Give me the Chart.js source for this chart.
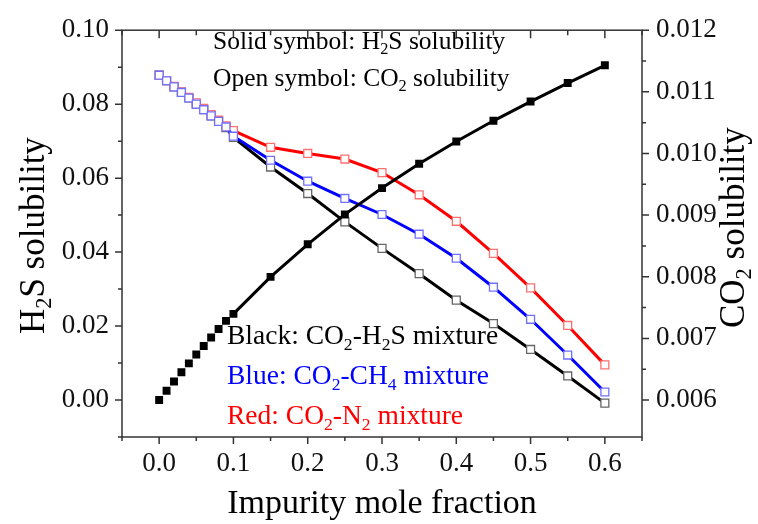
<!DOCTYPE html>
<html><head><meta charset="utf-8">
<script src="https://cdn.jsdelivr.net/npm/chart.js@4.4.1/dist/chart.umd.min.js"></script>
<style>html,body{margin:0;padding:0;background:#fff;} #wrap{width:758px;height:524px;position:relative;}</style>
</head><body><div id="wrap"><canvas id="c" width="758" height="524"></canvas></div>
<script>
// ---- data ----
const impurityFraction = [0, 0.01, 0.02, 0.03, 0.04, 0.05, 0.06, 0.07, 0.08, 0.09, 0.1, 0.15, 0.2, 0.25, 0.3, 0.35, 0.4, 0.45, 0.5, 0.55, 0.6];
const h2sSolubility = [0, 0.0025, 0.0050, 0.0075, 0.0099, 0.0123, 0.0146, 0.0169, 0.0192, 0.0214, 0.0233, 0.0333, 0.0421, 0.0502, 0.0573, 0.0639, 0.0699, 0.0755, 0.0807, 0.0857, 0.0905];
const co2SolCO2H2S = [0.01127, 0.01118, 0.01108, 0.01099, 0.01090, 0.01080, 0.01071, 0.01061, 0.01052, 0.01042, 0.01026, 0.00978, 0.00935, 0.00889, 0.00846, 0.00805, 0.00762, 0.00724, 0.00682, 0.00639, 0.00595];
const co2SolCO2CH4 = [0.01127, 0.01118, 0.01108, 0.01099, 0.01090, 0.01080, 0.01071, 0.01061, 0.01052, 0.01043, 0.01028, 0.00989, 0.00955, 0.00927, 0.00901, 0.00869, 0.00830, 0.00783, 0.00731, 0.00673, 0.00613];
const co2SolCO2N2 = [0.01127, 0.01118, 0.01109, 0.01100, 0.01091, 0.01082, 0.01073, 0.01063, 0.01054, 0.01045, 0.01037, 0.01010, 0.01000, 0.00991, 0.00969, 0.00933, 0.00890, 0.00838, 0.00782, 0.00721, 0.00657];

const xMajorTicks = [0, 0.1, 0.2, 0.3, 0.4, 0.5, 0.6];
const xMinorTicks = [-0.05, 0.05, 0.15, 0.25, 0.35, 0.45, 0.55, 0.65];
const leftMajorTicks = [0, 0.02, 0.04, 0.06, 0.08, 0.10];
const leftMinorTicks = [-0.01, 0.01, 0.03, 0.05, 0.07, 0.09];
const rightMajorTicks = [0.006, 0.007, 0.008, 0.009, 0.010, 0.011, 0.012];
const rightMinorTicks = [0.0065, 0.0075, 0.0085, 0.0095, 0.0105, 0.0115];

const xTitle = 'Impurity mole fraction';
const leftTitle = 'H_{2}S solubility';
const rightTitle = 'CO_{2} solubility';
const noteSolid = 'Solid symbol: H_{2}S solubility';
const noteOpen = 'Open symbol: CO_{2} solubility';
const noteBlack = 'Black: CO_{2}-H_{2}S mixture';
const noteBlue = 'Blue: CO_{2}-CH_{4} mixture';
const noteRed = 'Red: CO_{2}-N_{2} mixture';

// ---- helpers ----
const FONT = '"Liberation Serif", "Times New Roman", serif';
function parseRich(s) {
  const out = []; const re = /_\{([^}]*)\}/g; let last = 0, m;
  while ((m = re.exec(s))) { if (m.index > last) out.push({t: s.slice(last, m.index), sub: false}); out.push({t: m[1], sub: true}); last = re.lastIndex; }
  if (last < s.length) out.push({t: s.slice(last), sub: false});
  return out;
}
function drawRich(ctx, str, x, y, size, color, align, rot) {
  const segs = parseRich(str);
  const subSize = size * 0.64;
  ctx.save();
  ctx.translate(x, y);
  if (rot) ctx.rotate(rot);
  ctx.fillStyle = color;
  ctx.textBaseline = 'alphabetic';
  ctx.textAlign = 'left';
  let total = 0;
  segs.forEach(sg => { ctx.font = (sg.sub ? subSize : size) + 'px ' + FONT; sg.w = ctx.measureText(sg.t).width; total += sg.w; });
  let cx = align === 'center' ? -total / 2 : 0;
  segs.forEach(sg => {
    ctx.font = (sg.sub ? subSize : size) + 'px ' + FONT;
    ctx.fillText(sg.t, cx, sg.sub ? size * 0.2 : 0);
    cx += sg.w;
  });
  ctx.restore();
}

const framePlugin = {
  id: 'frame',
  afterDraw(chart) {
    const {ctx, chartArea: a, scales} = chart;
    const sx = scales.x, sy = scales.y, sy2 = scales.y2;
    ctx.save();
    ctx.strokeStyle = '#333';
    ctx.lineWidth = 1.5;
    ctx.strokeRect(a.left, a.top, a.right - a.left, a.bottom - a.top);
    ctx.lineWidth = 1.5;
    ctx.beginPath();
    const MAJ = 7, MIN = 4;
    xMajorTicks.forEach(v => { const p = sx.getPixelForValue(v); ctx.moveTo(p, a.bottom); ctx.lineTo(p, a.bottom + MAJ); ctx.moveTo(p, a.top); ctx.lineTo(p, a.top + MAJ + 1); });
    xMinorTicks.forEach(v => { const p = sx.getPixelForValue(v); ctx.moveTo(p, a.bottom); ctx.lineTo(p, a.bottom + MIN); ctx.moveTo(p, a.top); ctx.lineTo(p, a.top + MIN + 1); });
    leftMajorTicks.forEach(v => { const p = sy.getPixelForValue(v); ctx.moveTo(a.left, p); ctx.lineTo(a.left - MAJ, p); });
    leftMinorTicks.forEach(v => { const p = sy.getPixelForValue(v); ctx.moveTo(a.left, p); ctx.lineTo(a.left - MIN, p); });
    rightMajorTicks.forEach(v => { const p = sy2.getPixelForValue(v); ctx.moveTo(a.right, p); ctx.lineTo(a.right + MAJ, p); });
    rightMinorTicks.forEach(v => { const p = sy2.getPixelForValue(v); ctx.moveTo(a.right, p); ctx.lineTo(a.right + MIN, p); });
    ctx.stroke();
    ctx.restore();

    drawRich(ctx, xTitle, (a.left + a.right) / 2, 513, 34, '#000', 'center', 0);
    drawRich(ctx, leftTitle, 44, (a.top + a.bottom) / 2 + 2, 35, '#000', 'center', -Math.PI / 2);
    drawRich(ctx, rightTitle, 744, (a.top + a.bottom) / 2 - 6, 35, '#000', 'center', -Math.PI / 2);
    drawRich(ctx, noteSolid, 213, 49, 25.5, '#000', 'left', 0);
    drawRich(ctx, noteOpen, 213, 86, 25.5, '#000', 'left', 0);
    drawRich(ctx, noteBlack, 227, 344, 27.5, '#000', 'left', 0);
    drawRich(ctx, noteBlue, 227, 384, 27.5, '#0000ff', 'left', 0);
    drawRich(ctx, noteRed, 227, 424, 27.5, '#ff0000', 'left', 0);
  }
};

function pts(ys) { return impurityFraction.map((x, i) => ({x: x, y: ys[i]})); }

const tickFont = {family: FONT, size: 27};

new Chart(document.getElementById('c'), {
  type: 'line',
  data: {
    datasets: [
      {
        label: 'H2S solubility (CO2-H2S)', data: pts(h2sSolubility), yAxisID: 'y', order: 0,
        borderColor: '#000', borderWidth: 3, pointStyle: 'rect', pointRadius: 5.6,
        pointBackgroundColor: '#000', pointBorderColor: '#000', pointBorderWidth: 0,
        segment: { borderColor: c => (c.p1.parsed.x <= 0.1 + 1e-9 ? 'rgba(0,0,0,0)' : '#000') }
      },
      {
        label: 'CO2 solubility (CO2-CH4)', data: pts(co2SolCO2CH4), yAxisID: 'y2', order: 1,
        borderColor: '#0000ff', borderWidth: 3, pointStyle: 'rect', pointRadius: 5.6,
        pointBackgroundColor: '#fff', pointBorderColor: '#7070ff', pointBorderWidth: 1.3
      },
      {
        label: 'CO2 solubility (CO2-N2)', data: pts(co2SolCO2N2), yAxisID: 'y2', order: 2,
        borderColor: '#ff0000', borderWidth: 3, pointStyle: 'rect', pointRadius: 5.6,
        pointBackgroundColor: '#fff', pointBorderColor: '#ff7070', pointBorderWidth: 1.3
      },
      {
        label: 'CO2 solubility (CO2-H2S)', data: pts(co2SolCO2H2S), yAxisID: 'y2', order: 3,
        borderColor: '#000', borderWidth: 3, pointStyle: 'rect', pointRadius: 5.6,
        pointBackgroundColor: '#fff', pointBorderColor: '#666', pointBorderWidth: 1.3
      }
    ]
  },
  options: {
    responsive: false, animation: false, devicePixelRatio: 1,
    layout: {padding: {top: 17, left: 0, right: 0, bottom: 0}},
    plugins: {legend: {display: false}, tooltip: {enabled: false}},
    elements: {line: {tension: 0}},
    scales: {
      x: {
        type: 'linear', position: 'bottom', min: -0.05, max: 0.65,
        afterBuildTicks: s => { s.ticks = xMajorTicks.map(v => ({value: v})); },
        afterFit: s => { s.height = 524 - 437; },
        grid: {display: false, drawTicks: false}, border: {display: false},
        ticks: {font: tickFont, color: '#111', padding: 11, maxRotation: 0, autoSkip: false, callback: v => v.toFixed(1)}
      },
      y: {
        type: 'linear', position: 'left', min: -0.01, max: 0.10,
        afterBuildTicks: s => { s.ticks = leftMajorTicks.map(v => ({value: v})); },
        afterFit: s => { s.width = 122; },
        grid: {display: false, drawTicks: false}, border: {display: false},
        ticks: {font: tickFont, color: '#111', padding: 13, autoSkip: false, callback: v => v.toFixed(2)}
      },
      y2: {
        type: 'linear', position: 'right', min: 0.0054, max: 0.012,
        afterBuildTicks: s => { s.ticks = rightMajorTicks.map(v => ({value: v})); },
        afterFit: s => { s.width = 758 - 642; },
        grid: {display: false, drawTicks: false}, border: {display: false},
        ticks: {font: tickFont, color: '#111', padding: 14, autoSkip: false, callback: v => v.toFixed(3)}
      }
    }
  },
  plugins: [framePlugin]
});
</script>
</body></html>
